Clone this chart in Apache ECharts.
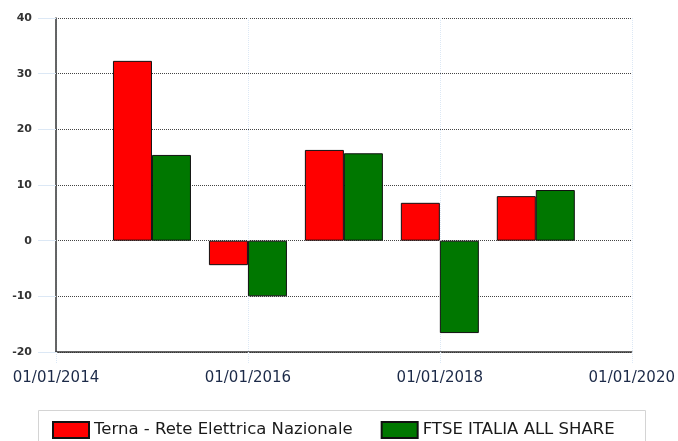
<!DOCTYPE html>
<html>
<head>
<meta charset="UTF-8">
<title>Terna vs FTSE</title>
<script type="text/javascript" src="https://cdn.jsdelivr.net/npm/echarts@6/dist/echarts.min.js"></script>
</head>
<body style="margin:0">
<div id="main" style="width:678px;height:441px;"></div>
<script type="text/javascript">
// bars sit on 01/01 of each year
var years = [2015, 2016, 2017, 2018, 2019];
var terna = [32.3, -4.4, 16.3, 6.8, 8.0];
var ftse = [15.4, -10.0, 15.7, -16.6, 9.1];
var names = ['Terna - Rete Elettrica Nazionale', 'FTSE ITALIA ALL SHARE'];

function pairs(vals) {
	return vals.map(function (v, i) { return [years[i], v]; });
}

var myChart = echarts.init(document.getElementById('main'));
var option = {
	animation: false,
	textStyle: { fontFamily: 'DejaVu Sans' },
	grid: { left: 56, right: 43, top: 18, bottom: 89 },
	graphic: [{
		type: 'rect',
		shape: { x: 38.5, y: 410.5, width: 607, height: 40 },
		style: { fill: '#fff', stroke: '#d4d4d4', lineWidth: 1 }
	}],
	legend: {
		left: 52, top: 421, icon: 'rect', padding: 0,
		itemWidth: 36, itemHeight: 16, itemGap: 28,
		textStyle: { fontSize: 16.5, color: '#1a1a1a' },
		data: names
	},
	xAxis: {
		type: 'value',
		min: 2014, max: 2020, interval: 2,
		axisLine: { onZero: false, lineStyle: { color: '#333', width: 1.5 } },
		axisTick: { show: true, length: 12, lineStyle: { color: '#dce8f5', type: 'dotted' } },
		splitLine: { show: true, lineStyle: { color: '#dce8f5', type: 'dotted' } },
		axisLabel: {
			fontSize: 15, color: '#1c2a48', margin: 19,
			formatter: function (v) { return '01/01/' + v; }
		}
	},
	yAxis: {
		type: 'value',
		min: -20, max: 40, interval: 10,
		axisLine: { show: true, lineStyle: { color: '#333', width: 1.5 } },
		axisTick: { show: true, length: 18, lineStyle: { color: '#dce8f5' } },
		splitLine: { lineStyle: { color: '#444', type: 'dotted' } },
		axisLabel: { fontSize: 11, fontWeight: 'bold', color: '#333', margin: 24 }
	},
	series: [
		{
			name: names[0], type: 'bar', barWidth: 39, barGap: '0%',
			itemStyle: { color: '#ff0000', borderColor: '#111', borderWidth: 1 },
			data: pairs(terna)
		},
		{
			name: names[1], type: 'bar', barWidth: 39, barGap: '0%',
			itemStyle: { color: '#007700', borderColor: '#111', borderWidth: 1 },
			data: pairs(ftse)
		}
	]
};
myChart.setOption(option);
</script>
</body>
</html>
